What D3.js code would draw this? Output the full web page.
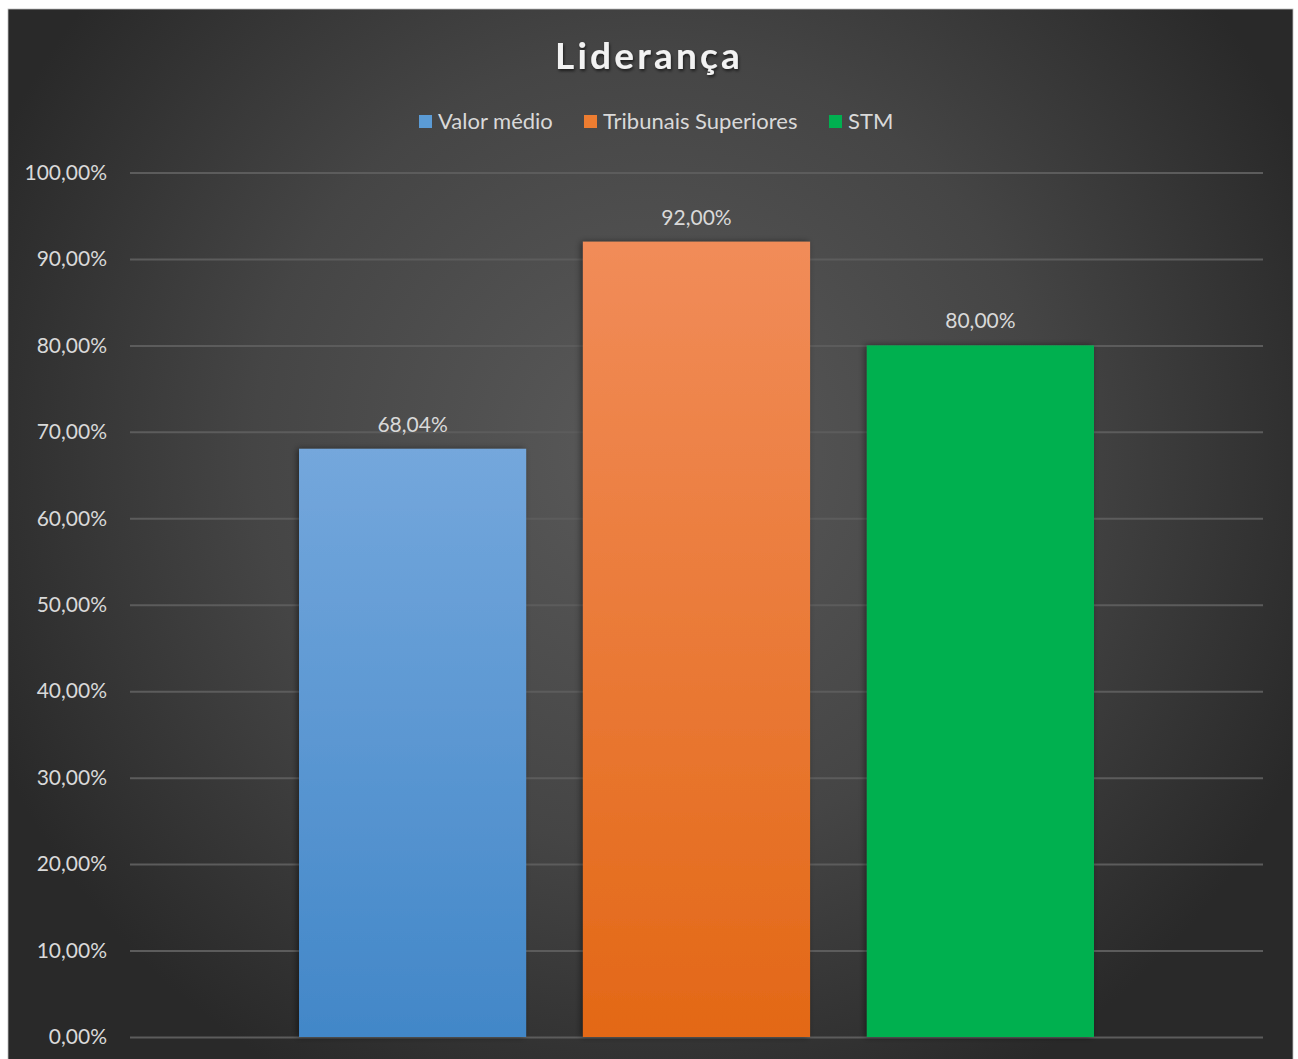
<!DOCTYPE html>
<html>
<head>
<meta charset="utf-8">
<script src="https://cdn.jsdelivr.net/npm/d3@7.9.0/dist/d3.min.js"></script>
<style>
  html, body { margin: 0; padding: 0; background: #fff; }
  svg { display: block; }
</style>
</head>
<body>
<div id="chart"></div>
<script>
// === Data ===
const chartTitle = "Liderança";
const seriesNames = ["Valor médio", "Tribunais Superiores", "STM"];
const seriesValues = [68.04, 92.00, 80.00];
const yTicks = [0, 10, 20, 30, 40, 50, 60, 70, 80, 90, 100];

// colours per series: [top, bottom] of the bar gradient
const seriesColors = [
    ["#74a7dc", "#4287c8"],
    ["#f18c59", "#e36816"],
    ["#00b050", "#00b050"]
];
const legendColors = ["#5b9bd5", "#ed7d31", "#00b050"];

// === Dimensions ===
const W = 1298, H = 1059;
const frame = { x: 8, y: 9, w: 1285, h: 1060 };
const margin = { top: 172.5, left: 130, right: W - 1263, bottom: H - 1037 };

const fmt = v => v.toFixed(2).replace(".", ",") + "%";

const svg = d3.select("#chart").append("svg")
    .attr("width", W)
    .attr("height", H)
    .style("font-family", "Lato, 'Open Sans', sans-serif");

const defs = svg.append("defs");

// background gradient (lighter in the middle, dark edges)
const bg = defs.append("radialGradient")
    .attr("id", "bg")
    .attr("gradientUnits", "userSpaceOnUse")
    .attr("cx", 650).attr("cy", 450).attr("r", 720);
bg.append("stop").attr("offset", "0%").attr("stop-color", "#5a5a5a");
bg.append("stop").attr("offset", "55%").attr("stop-color", "#454545");
bg.append("stop").attr("offset", "100%").attr("stop-color", "#292929");

seriesColors.forEach((c, i) => {
    const g = defs.append("linearGradient")
        .attr("id", "bar" + i)
        .attr("x1", 0).attr("y1", 0).attr("x2", 0).attr("y2", 1);
    g.append("stop").attr("offset", "0%").attr("stop-color", c[0]);
    g.append("stop").attr("offset", "100%").attr("stop-color", c[1]);
});

const shadow = defs.append("filter").attr("id", "shadow")
    .attr("x", "-10%").attr("y", "-10%").attr("width", "120%").attr("height", "120%");
shadow.append("feDropShadow")
    .attr("dx", -2).attr("dy", 0).attr("stdDeviation", 3)
    .attr("flood-color", "#000").attr("flood-opacity", 0.45);

const titleShadow = defs.append("filter").attr("id", "tshadow");
titleShadow.append("feDropShadow")
    .attr("dx", 1).attr("dy", 2).attr("stdDeviation", 1.5)
    .attr("flood-color", "#000").attr("flood-opacity", 0.6);

svg.append("rect")
    .attr("x", frame.x).attr("y", frame.y)
    .attr("width", frame.w).attr("height", frame.h)
    .attr("fill", "url(#bg)")
    .attr("stroke", "#bfbfbf").attr("stroke-width", 0.8);

// === Scales ===
const y = d3.scaleLinear()
    .domain([0, 100])
    .range([H - margin.bottom, margin.top]);

const x0 = d3.scaleBand()
    .domain([chartTitle])
    .range([margin.left, W - margin.right])
    .paddingInner(0)
    .paddingOuter(0.2126);

const x1 = d3.scaleBand()
    .domain(seriesNames)
    .range([x0(chartTitle), x0(chartTitle) + x0.bandwidth()])
    .paddingInner(0.2)
    .paddingOuter(0);

// === Grid and y axis ===
const yAxis = svg.append("g")
    .attr("transform", `translate(${margin.left},0)`)
    .call(d3.axisLeft(y).tickValues(yTicks)
        .tickSize(-(W - margin.left - margin.right))
        .tickPadding(23)
        .tickFormat(fmt));
yAxis.select(".domain").remove();
yAxis.selectAll(".tick line")
    .attr("stroke", "#5c5c5c")
    .attr("stroke-width", 2);
yAxis.selectAll(".tick text")
    .attr("fill", "#d9d9d9")
    .attr("font-size", 21)
    .attr("font-family", "Lato, 'Open Sans', sans-serif");

// === Bars ===
const data = seriesNames.map((name, i) => ({ name, value: seriesValues[i], i }));

svg.append("g").selectAll("rect")
    .data(data)
    .join("rect")
    .attr("x", d => x1(d.name))
    .attr("y", d => y(d.value))
    .attr("width", x1.bandwidth())
    .attr("height", d => y(0) - y(d.value))
    .attr("fill", d => `url(#bar${d.i})`)
    .attr("filter", "url(#shadow)");

// value labels
svg.append("g").selectAll("text")
    .data(data)
    .join("text")
    .attr("x", d => x1(d.name) + x1.bandwidth() / 2)
    .attr("y", d => y(d.value) - 17)
    .attr("text-anchor", "middle")
    .attr("fill", "#d9d9d9")
    .attr("font-size", 21)
    .text(d => fmt(d.value));

// === Title ===
svg.append("text")
    .attr("x", 649)
    .attr("y", 69)
    .attr("text-anchor", "middle")
    .attr("fill", "#f2f2f2")
    .attr("font-size", 37)
    .attr("font-weight", "bold")
    .attr("letter-spacing", 3.2)
    .attr("filter", "url(#tshadow)")
    .text(chartTitle);

// === Legend ===
const legend = svg.append("g");
const legendX = [419, 584, 829];
const items = legend.selectAll("g")
    .data(seriesNames)
    .join("g")
    .attr("transform", (d, i) => `translate(${legendX[i]},115)`);
items.append("rect")
    .attr("width", 13).attr("height", 13)
    .attr("fill", (d, i) => legendColors[i]);
items.append("text")
    .attr("x", 19)
    .attr("y", 14)
    .attr("fill", "#d9d9d9")
    .attr("font-size", 22)
    .text(d => d);
</script>
</body>
</html>
